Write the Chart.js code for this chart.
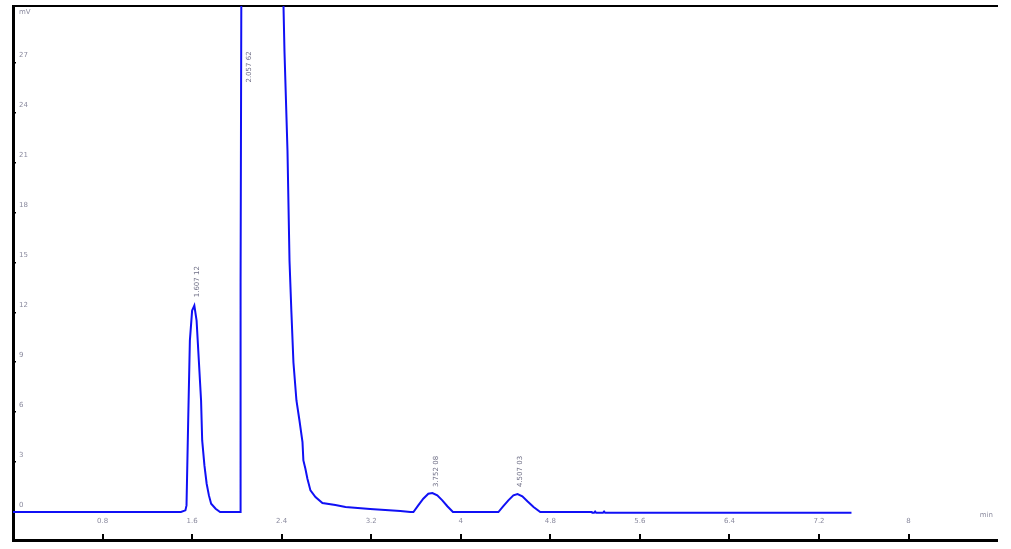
<!DOCTYPE html>
<html>
<head>
<meta charset="utf-8">
<script src="https://cdn.jsdelivr.net/npm/chart.js@4.4.1/dist/chart.umd.min.js"></script>
<style>
	html, body { margin:0; padding:0; background:#fff; }
	.chart-wrap { width:1011px; height:549px; position:relative; }
</style>
</head>
<body>
<div class="chart-wrap"><canvas id="chromChart"></canvas></div>
<script>
// trace: time (min) and signal (mV)
const timeData = [
	0, 1.50, 1.54, 1.55, 1.565, 1.58, 1.60, 1.62, 1.64, 1.66, 1.68, 1.69, 1.71, 1.73, 1.75, 1.77, 1.81, 1.85,
	2.030, 2.033, 2.045, 2.10, 2.20, 2.30, 2.40, 2.416, 2.425, 2.452, 2.470, 2.487, 2.505, 2.532, 2.559, 2.586,
	2.594, 2.612, 2.630, 2.657, 2.702, 2.764, 2.880, 2.970, 3.19, 3.46, 3.55,
	3.577, 3.62, 3.665, 3.71, 3.746, 3.79, 3.835, 3.88, 3.93,
	4.336, 4.38, 4.425, 4.47, 4.507, 4.55, 4.595, 4.65, 4.71,
	5.17, 5.175, 5.19, 5.20, 5.21, 5.27, 5.28, 5.29, 7.49
];
const signalData = [
	0, 0, 0.1, 0.4, 5.5, 10.3, 12.1, 12.4, 11.5, 9.1, 6.7, 4.3, 2.8, 1.7, 1.0, 0.5, 0.2, 0,
	0, 13.8, 45, 80, 120, 90, 40, 30.5, 27.7, 21.7, 15.1, 12.0, 9.0, 6.7, 5.5, 4.2,
	3.1, 2.6, 2.0, 1.3, 0.9, 0.54, 0.42, 0.3, 0.18, 0.06, 0,
	0, 0.4, 0.8, 1.1, 1.14, 1.0, 0.7, 0.35, 0,
	0, 0.35, 0.7, 1.0, 1.08, 0.95, 0.65, 0.3, 0,
	0, -0.05, -0.05, 0.03, -0.05, -0.05, 0.03, -0.05, -0.05
];

// peak annotations
const peakTimes = [1.62, 2.08, 3.752, 4.507];
const peakLabelY = [12.9, 25.8, 1.5, 1.5];
const peakLabels = ['1.607 12', '2.057 62', '3.752 08', '4.507 03'];

const xTicks = [0.8, 1.6, 2.4, 3.2, 4, 4.8, 5.6, 6.4, 7.2, 8];
const xTickLabels = ['0.8', '1.6', '2.4', '3.2', '4', '4.8', '5.6', '6.4', '7.2', '8'];
const yTicks = [0, 3, 6, 9, 12, 15, 18, 21, 24, 27];
const xUnit = 'min';
const yUnit = 'mV';

const labelColor = '#8a8a9e';
const smallFont = { family: 'DejaVu Sans', size: 7 };

const annotationPlugin = {
	id: 'annotations',
	afterDatasetsDraw(chart){
		const ctx = chart.ctx;
		const xs = chart.scales.x;
		const ys = chart.scales.y;
		const area = chart.chartArea;
		ctx.save();
		ctx.font = '7px "DejaVu Sans"';
		ctx.fillStyle = labelColor;
		// unit labels
		ctx.textAlign = 'left';
		ctx.textBaseline = 'middle';
		ctx.fillText(yUnit, area.left + 6, area.top + 6);
		ctx.textAlign = 'right';
		ctx.fillText(xUnit, area.right - 4, ys.getPixelForValue(-0.2));
		// peak labels, rotated
		ctx.fillStyle = '#6f6f86';
		for(let i=0; i<peakTimes.length; i++){
			const px = xs.getPixelForValue(peakTimes[i]);
			const py = ys.getPixelForValue(peakLabelY[i]);
			ctx.save();
			ctx.translate(px + 3, py);
			ctx.rotate(-Math.PI/2);
			ctx.textAlign = 'left';
			ctx.textBaseline = 'middle';
			ctx.fillText(peakLabels[i], 0, 0);
			ctx.restore();
		}
		ctx.restore();
	}
};

function noPad(s){
	s.paddingTop = 0; s.paddingBottom = 0; s.paddingLeft = 0; s.paddingRight = 0;
}

window.addEventListener('DOMContentLoaded', function(){
	const ctx = document.getElementById('chromChart').getContext('2d');
	const points = timeData.map((t, i) => ({ x: t, y: signalData[i] }));

	new Chart(ctx, {
		type: 'line',
		data: {
			datasets: [{
				data: points,
				borderColor: '#1010f5',
				borderWidth: 2,
				pointRadius: 0,
				tension: 0,
				fill: false
			}]
		},
		options: {
			responsive: true,
			maintainAspectRatio: false,
			animation: false,
			layout: { padding: { left: 13, top: 6, right: 14, bottom: 9 } },
			plugins: { legend: { display: false }, tooltip: { enabled: false } },
			scales: {
				x: {
					type: 'linear',
					min: 0,
					max: 8.79,
					afterBuildTicks: s => { s.ticks = xTicks.map(v => ({ value: v })); },
					afterFit: s => { s.height = 0; noPad(s); },
					ticks: {
						mirror: true, padding: 15, color: labelColor, font: smallFont, maxRotation: 0, autoSkip: false,
						callback: (v, i) => xTickLabels[i]
					},
					grid: { display: true, drawOnChartArea: false, drawTicks: true, tickLength: -6, color: '#000', lineWidth: 2 },
					border: { display: true, color: '#000', width: 3 }
				},
				x2: {
					type: 'linear',
					position: 'top',
					min: 0,
					max: 1,
					afterFit: s => { s.height = 0; noPad(s); },
					ticks: { display: false },
					grid: { display: false, drawTicks: false },
					border: { display: true, color: '#000', width: 2 }
				},
				y: {
					min: -1.68,
					max: 30.4,
					afterBuildTicks: s => { s.ticks = yTicks.map(v => ({ value: v })); },
					afterFit: s => { s.width = 0; noPad(s); },
					ticks: { mirror: true, padding: 6, labelOffset: -7, color: labelColor, font: smallFont },
					grid: { display: true, drawOnChartArea: false, drawTicks: true, tickLength: -3, color: '#000', lineWidth: 1.5 },
					border: { display: true, color: '#000', width: 3 }
				}
			}
		},
		plugins: [annotationPlugin]
	});
});
</script>
</body>
</html>
